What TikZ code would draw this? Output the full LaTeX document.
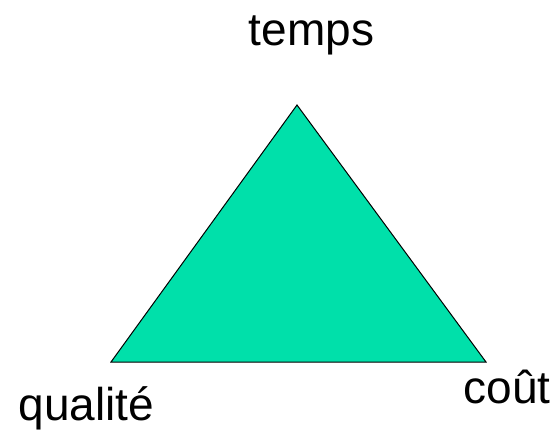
\documentclass[tikz,border=0pt]{standalone}
\usepackage{fontspec}
\setmainfont{Liberation Sans}
\definecolor{triangfill}{RGB}{0,224,170}
\begin{document}
\begin{tikzpicture}[x=1pt, y=-1pt,
    sommet/.style={font=\fontsize{46}{55}\selectfont, text=black, inner sep=0pt, anchor=base}]
  \useasboundingbox (0,0) rectangle (558,432);
  % triangle des contraintes
  \coordinate (haut) at (297,105);
  \coordinate (gauche) at (111,362);
  \coordinate (droite) at (486,362);
  \draw[draw=black, line width=1pt, fill=triangfill, line join=miter]
    (haut) -- (droite) -- (gauche) -- cycle;
  \node[sommet] (temps) at (311.5,45) {temps};
  \node[sommet] (qualite) at (86.5,420) {qualité};
  \node[sommet] (cout) at (507,403) {coût};
\end{tikzpicture}
\end{document}
